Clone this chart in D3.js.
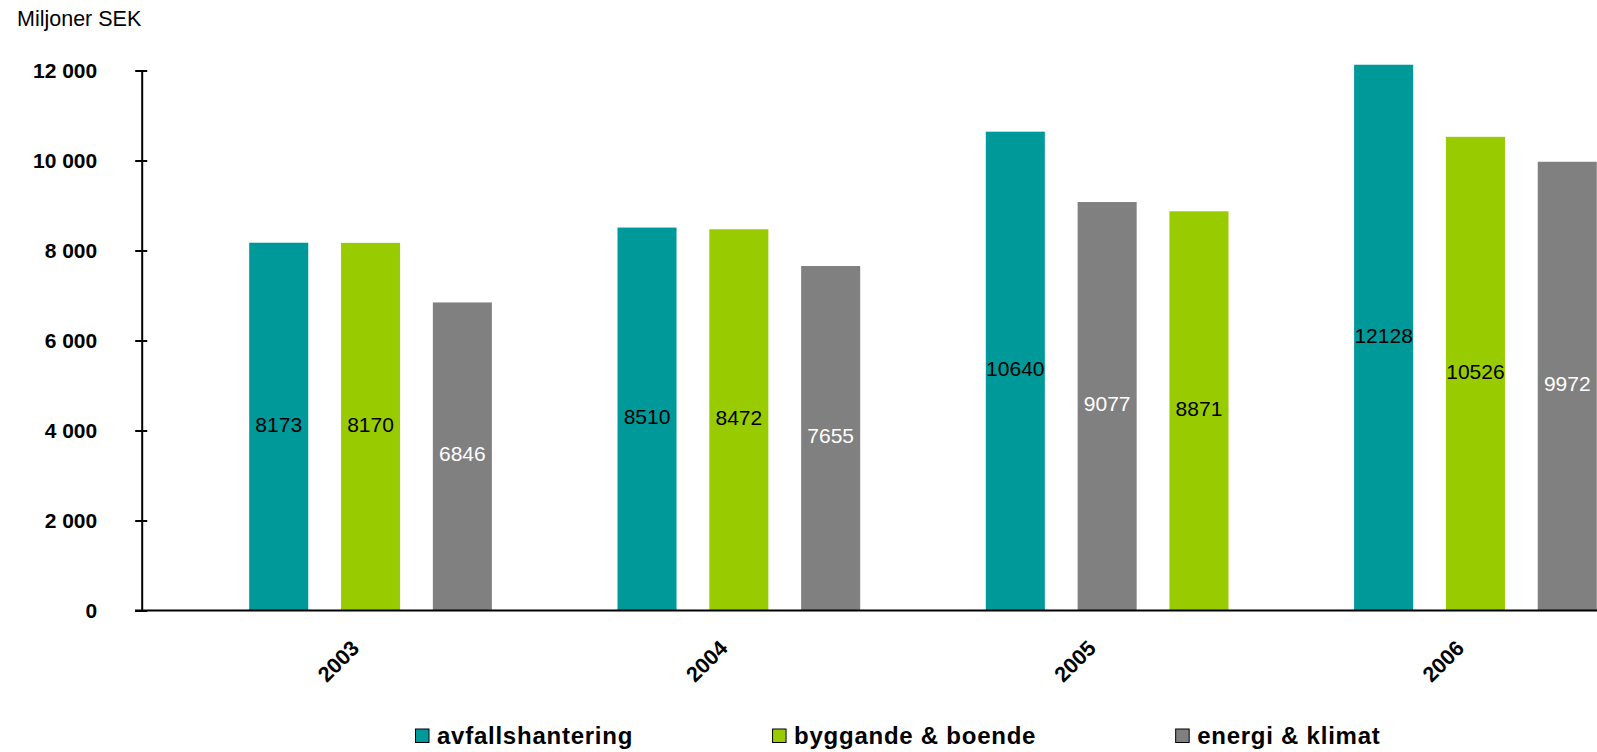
<!DOCTYPE html>
<html>
<head>
<meta charset="utf-8">
<script src="https://cdn.jsdelivr.net/npm/d3@7"></script>
<style>
  html, body { margin: 0; padding: 0; background: #ffffff; }
  svg { display: block; }
  text { font-family: "Liberation Sans", Arial, sans-serif; }
</style>
</head>
<body>
<svg id="chart" width="1597" height="752"></svg>
<script>
// ---- data ----
const years = ["2003", "2004", "2005", "2006"];
const seriesNames = ["avfallshantering", "byggande & boende", "energi & klimat"];
const avfallshantering = [8173, 8510, 10640, 12128];
const byggandeBoende = [8170, 8472, 8871, 10526];
const energiKlimat = [6846, 7655, 9077, 9972];
const seriesColors = ["#009999", "#99CC00", "#808080"];
const labelColors = ["#000000", "#000000", "#ffffff"];
const yTickValues = [0, 2000, 4000, 6000, 8000, 10000, 12000];
const yTitle = "Miljoner SEK";

const seriesValues = [avfallshantering, byggandeBoende, energiKlimat];

// ---- layout ----
const W = 1597, H = 752;
const axisX = 141.7;
const yTop = 70.5, yBottom = 610.5;
const groupStart = 186.4, groupStep = 368.3;

const svg = d3.select("#chart");

const y = d3.scaleLinear().domain([0, 12000]).range([yBottom, yTop]);
const x0 = d3.scaleBand().domain(years).range([groupStart, groupStart + groupStep * years.length]).padding(0);
const x1 = d3.scaleBand().domain([0, 1, 2]).range([0, x0.bandwidth()]).paddingInner(0.357).paddingOuter(0.684);

const locale = d3.formatLocale({ decimal: ",", thousands: "\u00a0", grouping: [3], currency: ["", " kr"] });
const fmt = locale.format(",d");

// build records: bars within each year sorted by value, descending
const records = [];
years.forEach((yr, i) => {
  const items = seriesValues.map((vals, s) => ({ year: yr, s, value: vals[i] }));
  items.sort((a, b) => b.value - a.value);
  items.forEach((d, rank) => { d.rank = rank; records.push(d); });
});

// title
svg.append("text")
  .attr("x", 17).attr("y", 26)
  .attr("font-size", 21.5)
  .attr("fill", "#000")
  .text(yTitle);

// bars
const gBars = svg.append("g");
gBars.selectAll("rect").data(records).join("rect")
  .attr("x", d => x0(d.year) + x1(d.rank))
  .attr("y", d => y(d.value))
  .attr("width", x1.bandwidth())
  .attr("height", d => y(0) - y(d.value))
  .attr("fill", d => seriesColors[d.s]);

// value labels
gBars.selectAll("text").data(records).join("text")
  .attr("x", d => x0(d.year) + x1(d.rank) + x1.bandwidth() / 2)
  .attr("y", d => (y(d.value) + y(0)) / 2 + 5)
  .attr("text-anchor", "middle")
  .attr("font-size", 21)
  .attr("fill", d => labelColors[d.s])
  .text(d => d.value);

// y axis
const yAxis = d3.axisLeft(y).tickValues(yTickValues).tickFormat(d => fmt(d)).tickSizeInner(6.5).tickSizeOuter(0).tickPadding(38);
const gy = svg.append("g").attr("transform", `translate(${axisX},0)`).call(yAxis);
gy.attr("font-size", null).attr("font-family", null);
gy.select(".domain").attr("stroke", "#000").attr("stroke-width", 2);
gy.selectAll(".tick line").attr("stroke", "#000").attr("stroke-width", 2).attr("x2", -6.5).attr("x1", 5.5);
gy.selectAll(".tick text")
  .style("font-size", "21px")
  .style("font-weight", "bold")
  .attr("fill", "#000")
  .attr("dy", "0.35em");

// x axis
const xAxis = d3.axisBottom(x0).tickSize(0).tickPadding(0);
const gx = svg.append("g").attr("transform", `translate(0,${yBottom})`).call(xAxis);
gx.attr("font-size", null).attr("font-family", null);
gx.select(".domain").remove();
gx.append("line").attr("x1", 135).attr("x2", W).attr("y1", 0).attr("y2", 0)
  .attr("stroke", "#000").attr("stroke-width", 2);
gx.selectAll(".tick text")
  .style("font-size", "21.5px")
  .style("font-weight", "bold")
  .attr("fill", "#000")
  .attr("text-anchor", "end")
  .attr("dy", 0)
  .attr("y", 0)
  .attr("transform", "translate(-10,39) rotate(-45)");

// legend
const legend = svg.append("g");
let lx = 415;
seriesNames.forEach((name, i) => {
  const g = legend.append("g").attr("transform", `translate(${lx},0)`);
  g.append("rect").attr("x", 0.5).attr("y", 729).attr("width", 13.5).attr("height", 13.5)
    .attr("fill", seriesColors[i]).attr("stroke", "#000").attr("stroke-width", 1);
  const t = g.append("text").attr("x", 22).attr("y", 744)
    .attr("font-size", 24).attr("font-weight", "bold").attr("letter-spacing", 0.75)
    .attr("fill", "#000").text(name);
  const w = t.node().getComputedTextLength();
  lx += 22 + w + 139;
});
</script>
</body>
</html>
